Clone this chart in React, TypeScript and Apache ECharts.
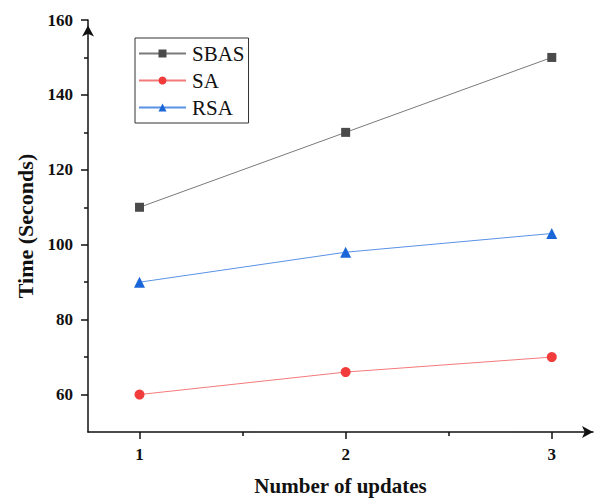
import React, { useEffect, useRef } from "react";
import * as echarts from "echarts";

const xValues = [1, 2, 3];
const sbas = [110, 130, 150];
const sa = [60, 66, 70];
const rsa = [90, 98, 103];
const yMajorTicks = [60, 80, 100, 120, 140, 160];
const yMinorTicks = [70, 90, 110, 130, 150];
const xMajorTicks = [1, 2, 3];
const xMinorTicks = [1.5, 2.5];

const FONT = "'Liberation Serif', 'Times New Roman', serif";

export default function App() {
  const ref = useRef<HTMLDivElement>(null);
  useEffect(() => {
    document.body.style.margin = "0";
    if (!ref.current) return;
    const chart = echarts.init(ref.current, undefined, { renderer: "svg" });
    const pair = (ys: number[]) => xValues.map((x, i) => [x, ys[i]]);
    const X_MIN = 0.75, X_MAX = 3.2, Y_MIN = 50, Y_MAX = 160;
    chart.setOption({
      animation: false,
      backgroundColor: "#ffffff",
      grid: { left: 88, right: 3, top: 20, height: 416, containLabel: false },
      legend: {
        orient: "vertical",
        left: 135,
        top: 38,
        itemWidth: 47,
        itemHeight: 10,
        itemGap: 6,
        borderColor: "#333",
        borderWidth: 1,
        padding: [5, 4, 5, 3],
        textStyle: { fontFamily: FONT, fontSize: 21, color: "#111", padding: [0, 0, 0, 1] },
        data: ["SBAS", "SA", "RSA"],
      },
      xAxis: [
        {
          type: "value",
          min: X_MIN,
          max: X_MAX,
          name: "Number of updates",
          nameLocation: "middle",
          nameGap: 43,
          nameTextStyle: { fontFamily: FONT, fontSize: 21, fontWeight: "bold", color: "#111" },
          axisLine: {
            show: true,
            lineStyle: { color: "#111", width: 1.5 },
            symbol: ["none", "arrow"],
            symbolSize: [9, 11],
          },
          axisTick: { show: true, inside: false, length: 7, customValues: xMajorTicks, lineStyle: { color: "#111", width: 1.5 } },
          axisLabel: { customValues: xMajorTicks, fontFamily: FONT, fontSize: 17, fontWeight: "bold", color: "#111", margin: 14 },
          splitLine: { show: false },
        },
        {
          type: "value",
          min: X_MIN,
          max: X_MAX,
          position: "bottom",
          axisLine: { show: false },
          axisTick: { show: true, inside: false, length: 4, customValues: xMinorTicks, lineStyle: { color: "#111", width: 1.5 } },
          axisLabel: { show: false },
          splitLine: { show: false },
        },
      ],
      yAxis: [
        {
          type: "value",
          min: Y_MIN,
          max: Y_MAX,
          name: "Time (Seconds)",
          nameLocation: "middle",
          nameGap: 50,
          nameTextStyle: { fontFamily: FONT, fontSize: 22, fontWeight: "bold", color: "#111" },
          axisLine: {
            show: true,
            lineStyle: { color: "#111", width: 1.5 },
            symbol: ["none", "arrow"],
            symbolSize: [9, 11],
            symbolOffset: [0, -5.5],
          },
          axisTick: { show: true, inside: false, length: 7, customValues: yMajorTicks, lineStyle: { color: "#111", width: 1.5 } },
          axisLabel: { customValues: yMajorTicks, fontFamily: FONT, fontSize: 17, fontWeight: "bold", color: "#111", margin: 15 },
          splitLine: { show: false },
        },
        {
          type: "value",
          min: Y_MIN,
          max: Y_MAX,
          position: "left",
          axisLine: { show: false },
          axisTick: { show: true, inside: false, length: 4, customValues: yMinorTicks, lineStyle: { color: "#111", width: 1.5 } },
          axisLabel: { show: false },
          splitLine: { show: false },
        },
      ],
      series: [
        {
          name: "SBAS",
          type: "line",
          data: pair(sbas),
          symbol: "rect",
          symbolSize: 9,
          itemStyle: { color: "#4a4a4a" },
          lineStyle: { color: "#7a7a7a", width: 1 },
        },
        {
          name: "SA",
          type: "line",
          data: pair(sa),
          symbol: "circle",
          symbolSize: 10,
          itemStyle: { color: "#f23c3c" },
          lineStyle: { color: "#f47a7a", width: 1 },
        },
        {
          name: "RSA",
          type: "line",
          data: pair(rsa),
          symbol: "triangle",
          symbolSize: 11,
          itemStyle: { color: "#1a66d9" },
          lineStyle: { color: "#5a92e6", width: 1 },
        },
      ],
    });
    return () => chart.dispose();
  }, []);
  return <div ref={ref} style={{ width: 596, height: 501 }} />;
}
